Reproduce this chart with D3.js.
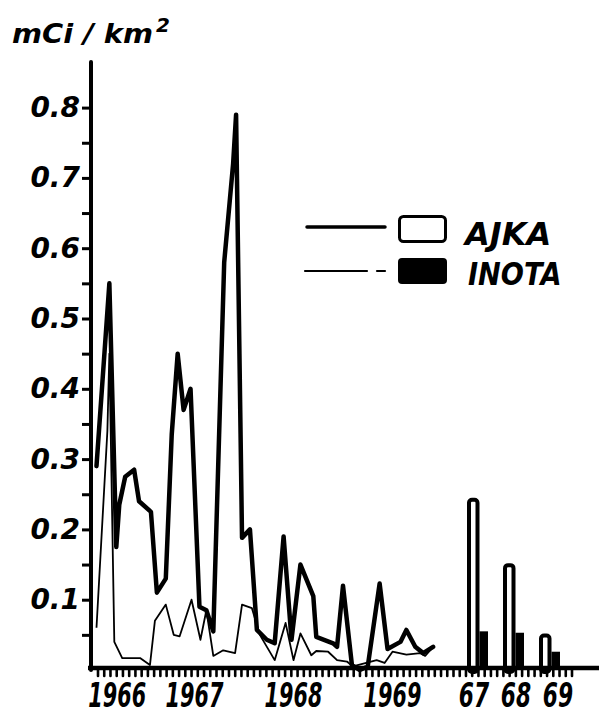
<!DOCTYPE html>
<html>
<head>
<meta charset="utf-8">
<script src="https://cdn.jsdelivr.net/npm/d3@7"></script>
<style>
  html, body { margin: 0; padding: 0; background: #fff; }
  svg { display: block; }
  text { font-family: "DejaVu Sans", sans-serif; font-weight: bold; font-style: oblique; fill: #000; }
</style>
</head>
<body>
<svg id="chart" width="599" height="715"></svg>
<script>
// Deposition, mCi/km², sampled over time (decimal year) at two sites
const ajkaTimes = [1966.51, 1966.64, 1966.71, 1966.74, 1966.80, 1966.89, 1966.94, 1967.06, 1967.12, 1967.21,
  1967.27, 1967.33, 1967.39, 1967.46, 1967.55, 1967.62, 1967.69, 1967.80, 1967.89, 1967.92,
  1967.98, 1968.06, 1968.13, 1968.23, 1968.31, 1968.40, 1968.48, 1968.57, 1968.70, 1968.73,
  1968.90, 1968.94, 1969.00, 1969.09, 1969.17, 1969.25, 1969.37, 1969.45, 1969.58, 1969.64,
  1969.73, 1969.81, 1969.91];
const ajkaValues = [0.29, 0.55, 0.175, 0.235, 0.275, 0.285, 0.24, 0.225, 0.11, 0.13,
  0.335, 0.45, 0.37, 0.40, 0.09, 0.085, 0.055, 0.58, 0.72, 0.79,
  0.188, 0.20, 0.057, 0.043, 0.038, 0.19, 0.043, 0.15, 0.105, 0.047,
  0.038, 0.033, 0.12, 0.007, 0.0, 0.005, 0.123, 0.03, 0.04, 0.057,
  0.033, 0.024, 0.033];

const inotaTimes = [1966.51, 1966.62, 1966.64, 1966.69, 1966.77, 1966.95, 1967.05, 1967.10, 1967.21, 1967.29,
  1967.35, 1967.47, 1967.56, 1967.62, 1967.69, 1967.79, 1967.91, 1967.98, 1968.08, 1968.16,
  1968.31, 1968.42, 1968.50, 1968.57, 1968.68, 1968.73, 1968.85, 1968.94, 1969.04, 1969.10,
  1969.34, 1969.42, 1969.50, 1969.64, 1969.78, 1969.83, 1969.91];
const inotaValues = [0.06, 0.34, 0.45, 0.04, 0.017, 0.017, 0.007, 0.07, 0.093, 0.05,
  0.048, 0.10, 0.043, 0.085, 0.02, 0.028, 0.024, 0.093, 0.088, 0.05,
  0.014, 0.067, 0.014, 0.052, 0.021, 0.027, 0.026, 0.014, 0.012, 0.005,
  0.014, 0.01, 0.026, 0.022, 0.024, 0.02, 0.033];

// Yearly bars
const barYears = ["67", "68", "69"];
const ajkaBarValues = [0.245, 0.152, 0.052];
const inotaBarValues = [0.055, 0.053, 0.026];

// Axis labels
const yMajorTicks = [0.1, 0.2, 0.3, 0.4, 0.5, 0.6, 0.7, 0.8];
const yMinorTicks = [0.05, 0.15, 0.25, 0.35, 0.45, 0.55, 0.65, 0.75];
const yearLabels = ["1966", "1967", "1968", "1969"];
const yearLabelTimes = [1966.72, 1967.5, 1968.5, 1969.5];
const seriesNames = ["AJKA", "INOTA"];
const tickCount = 76;

const svg = d3.select("#chart");

const y = d3.scaleLinear().domain([0, 0.8]).range([670, 107.6]);
const x = d3.scaleLinear().domain([1967, 1970]).range([145, 442]);
const tickPos = d3.scaleLinear().domain([0, tickCount]).range([98, 572]);
const group = d3.scaleBand().domain(barYears).range([467, 560]).paddingInner(0.4167).paddingOuter(0);
const sub = d3.scaleBand().domain(seriesNames).range([0, group.bandwidth()]);
const barLabelPos = d3.scalePoint().domain(barYears).range([474, 558]);

// Title
svg.append("text").attr("x", 12).attr("y", 43)
  .attr("font-size", 27).attr("textLength", 141).attr("lengthAdjust", "spacingAndGlyphs")
  .text("mCi / km");
svg.append("text").attr("x", 156).attr("y", 32).attr("font-size", 20).text("2");

// Y axis
const yAxis = d3.axisLeft(y)
  .tickValues(yMajorTicks.concat(yMinorTicks))
  .tickSize(9).tickPadding(2)
  .tickFormat(d => yMajorTicks.includes(d) ? d3.format(".1f")(d) : "");
const gy = svg.append("g").attr("transform", "translate(91,0)").call(yAxis);
gy.select(".domain").remove();
gy.selectAll(".tick line").attr("stroke", "#000").attr("stroke-width", 3);
gy.selectAll(".tick text").attr("font-size", 28).attr("font-family", null).attr("fill", "#000");
svg.append("line").attr("x1", 91).attr("x2", 91).attr("y1", 62).attr("y2", 670)
  .attr("stroke", "#000").attr("stroke-width", 4).attr("stroke-linecap", "round");

// Time series lines
const line = d3.line().x(d => x(d[0])).y(d => y(d[1]));
svg.append("path").datum(d3.zip(inotaTimes, inotaValues))
  .attr("d", line).attr("fill", "none").attr("stroke", "#000")
  .attr("stroke-width", 1.8).attr("stroke-linejoin", "round");
svg.append("path").datum(d3.zip(ajkaTimes, ajkaValues))
  .attr("d", line).attr("fill", "none").attr("stroke", "#000")
  .attr("stroke-width", 4.5).attr("stroke-linejoin", "round").attr("stroke-linecap", "round");

// Yearly bars: open for AJKA, solid for INOTA
const bars = svg.append("g");
bars.selectAll("rect.ajka").data(barYears).join("rect").attr("class", "ajka")
  .attr("x", d => group(d) + sub("AJKA") + 2)
  .attr("width", sub.bandwidth() - 2)
  .attr("y", (d, i) => y(ajkaBarValues[i]) + 2)
  .attr("height", (d, i) => y(0) - y(ajkaBarValues[i]))
  .attr("rx", 3)
  .attr("fill", "#fff").attr("stroke", "#000").attr("stroke-width", 4);
bars.selectAll("rect.inota").data(barYears).join("rect").attr("class", "inota")
  .attr("x", d => group(d) + sub("INOTA") + 2)
  .attr("width", sub.bandwidth() - 2)
  .attr("y", (d, i) => y(inotaBarValues[i]))
  .attr("height", (d, i) => y(0) - y(inotaBarValues[i]))
  .attr("fill", "#000");

// X axis with small tick marks
svg.append("line").attr("x1", 88).attr("x2", 599).attr("y1", 668).attr("y2", 668)
  .attr("stroke", "#000").attr("stroke-width", 4.5);
svg.append("g").selectAll("line").data(d3.range(tickCount + 1)).join("line")
  .attr("x1", d => tickPos(d)).attr("x2", d => tickPos(d))
  .attr("y1", 669).attr("y2", 676)
  .attr("stroke", "#000").attr("stroke-width", 2.6).attr("stroke-linecap", "round");

// Year labels (narrow, condensed lettering)
svg.append("g").selectAll("text").data(yearLabels).join("text")
  .attr("transform", (d, i) => `translate(${x(yearLabelTimes[i])},707) scale(0.63,1)`)
  .attr("text-anchor", "middle").attr("font-size", 33)
  .text(d => d);
svg.append("g").selectAll("text").data(barYears).join("text")
  .attr("transform", d => `translate(${barLabelPos(d)},707) scale(0.66,1)`)
  .attr("text-anchor", "middle").attr("font-size", 33)
  .text(d => d);

// Legend
const legend = svg.append("g");
legend.append("line").attr("x1", 307).attr("x2", 385).attr("y1", 227).attr("y2", 227)
  .attr("stroke", "#000").attr("stroke-width", 3.5).attr("stroke-linecap", "round");
legend.append("rect").attr("x", 399.5).attr("y", 216.5).attr("width", 46).attr("height", 25).attr("rx", 4)
  .attr("fill", "#fff").attr("stroke", "#000").attr("stroke-width", 3);
legend.append("text").attr("x", 465).attr("y", 245).attr("font-size", 32)
  .text(seriesNames[0]);
legend.append("line").attr("x1", 305).attr("x2", 367).attr("y1", 271).attr("y2", 271)
  .attr("stroke", "#000").attr("stroke-width", 2.2).attr("stroke-linecap", "round");
legend.append("line").attr("x1", 377).attr("x2", 385).attr("y1", 271).attr("y2", 271)
  .attr("stroke", "#000").attr("stroke-width", 2.2).attr("stroke-linecap", "round");
legend.append("rect").attr("x", 398).attr("y", 258).attr("width", 49).attr("height", 26).attr("rx", 4)
  .attr("fill", "#000");
legend.append("text").attr("transform", "translate(468,285) scale(0.85,1)").attr("font-size", 32)
  .text(seriesNames[1]);
</script>
</body>
</html>
